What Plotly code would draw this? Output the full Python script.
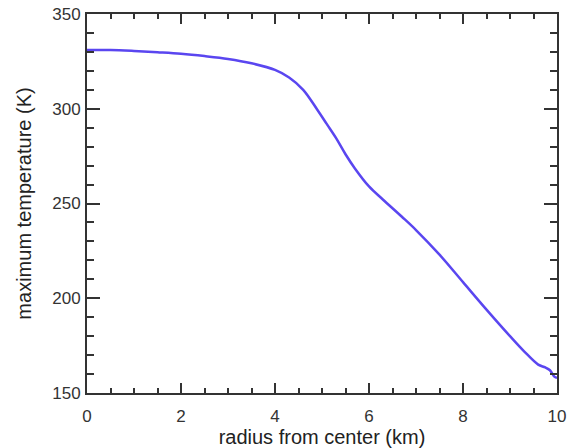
import plotly.graph_objects as go

# radius from center (km) and maximum temperature (K)
radius_km = [0.0, 0.5, 1.0, 1.5, 2.0, 2.5, 3.0, 3.5, 4.0, 4.3, 4.6, 4.9, 5.1,
             5.3, 5.5, 5.7, 6.0, 6.3, 6.7, 7.0, 7.5, 8.0, 8.5, 9.0, 9.3, 9.6,
             9.75, 9.85, 9.95, 10.0]
max_temp_k = [331.0, 331.0, 330.5, 329.8, 329.0, 327.8, 326.3, 324.0, 320.5,
              316.5, 310.0, 299.5, 292.0, 284.5, 276.0, 268.5, 259.0, 252.0,
              243.0, 236.0, 223.0, 208.5, 194.0, 180.0, 172.0, 165.0, 163.5,
              162.0, 158.5, 158.0]

AXIS_COLOR = "#333333"
TICK_FONT = dict(family="Liberation Sans, Arial, sans-serif", size=17, color="#333333")
TITLE_FONT = dict(family="Liberation Sans, Arial, sans-serif", size=20, color="#222222")

fig = go.Figure()
fig.add_trace(go.Scatter(
    x=radius_km, y=max_temp_k,
    mode="lines",
    line=dict(color="#5a46f0", width=2.5, shape="spline", smoothing=1.0),
    showlegend=False,
))

axis_common = dict(
    showgrid=False, zeroline=False,
    showline=True, linecolor=AXIS_COLOR, linewidth=2,
    mirror="allticks",
    ticks="inside", tickcolor=AXIS_COLOR, tickwidth=2,
    tickfont=TICK_FONT,
    automargin=False,
)

fig.update_xaxes(
    **axis_common,
    range=[0, 10], dtick=2, ticklen=10,
    minor=dict(ticks="inside", dtick=0.5, ticklen=5, tickcolor=AXIS_COLOR, tickwidth=2),
    ticklabelstandoff=7,
    title=dict(text="radius from center (km)", font=TITLE_FONT, standoff=5),
)
fig.update_yaxes(
    **axis_common,
    range=[150, 350], dtick=50, ticklen=13,
    minor=dict(ticks="inside", dtick=10, ticklen=7, tickcolor=AXIS_COLOR, tickwidth=2),
    ticklabelstandoff=1,
    title=dict(text="maximum temperature (K)", font=TITLE_FONT, standoff=15),
)

fig.update_layout(
    width=571, height=448,
    margin=dict(l=87, r=14, t=14, b=55),
    paper_bgcolor="white", plot_bgcolor="white",
    font=TICK_FONT,
)

# drop the page's default body margin so the figure fills the window
fig.write_html("out.html", config={"displayModeBar": False},
               post_script="document.body.style.margin='0';")
